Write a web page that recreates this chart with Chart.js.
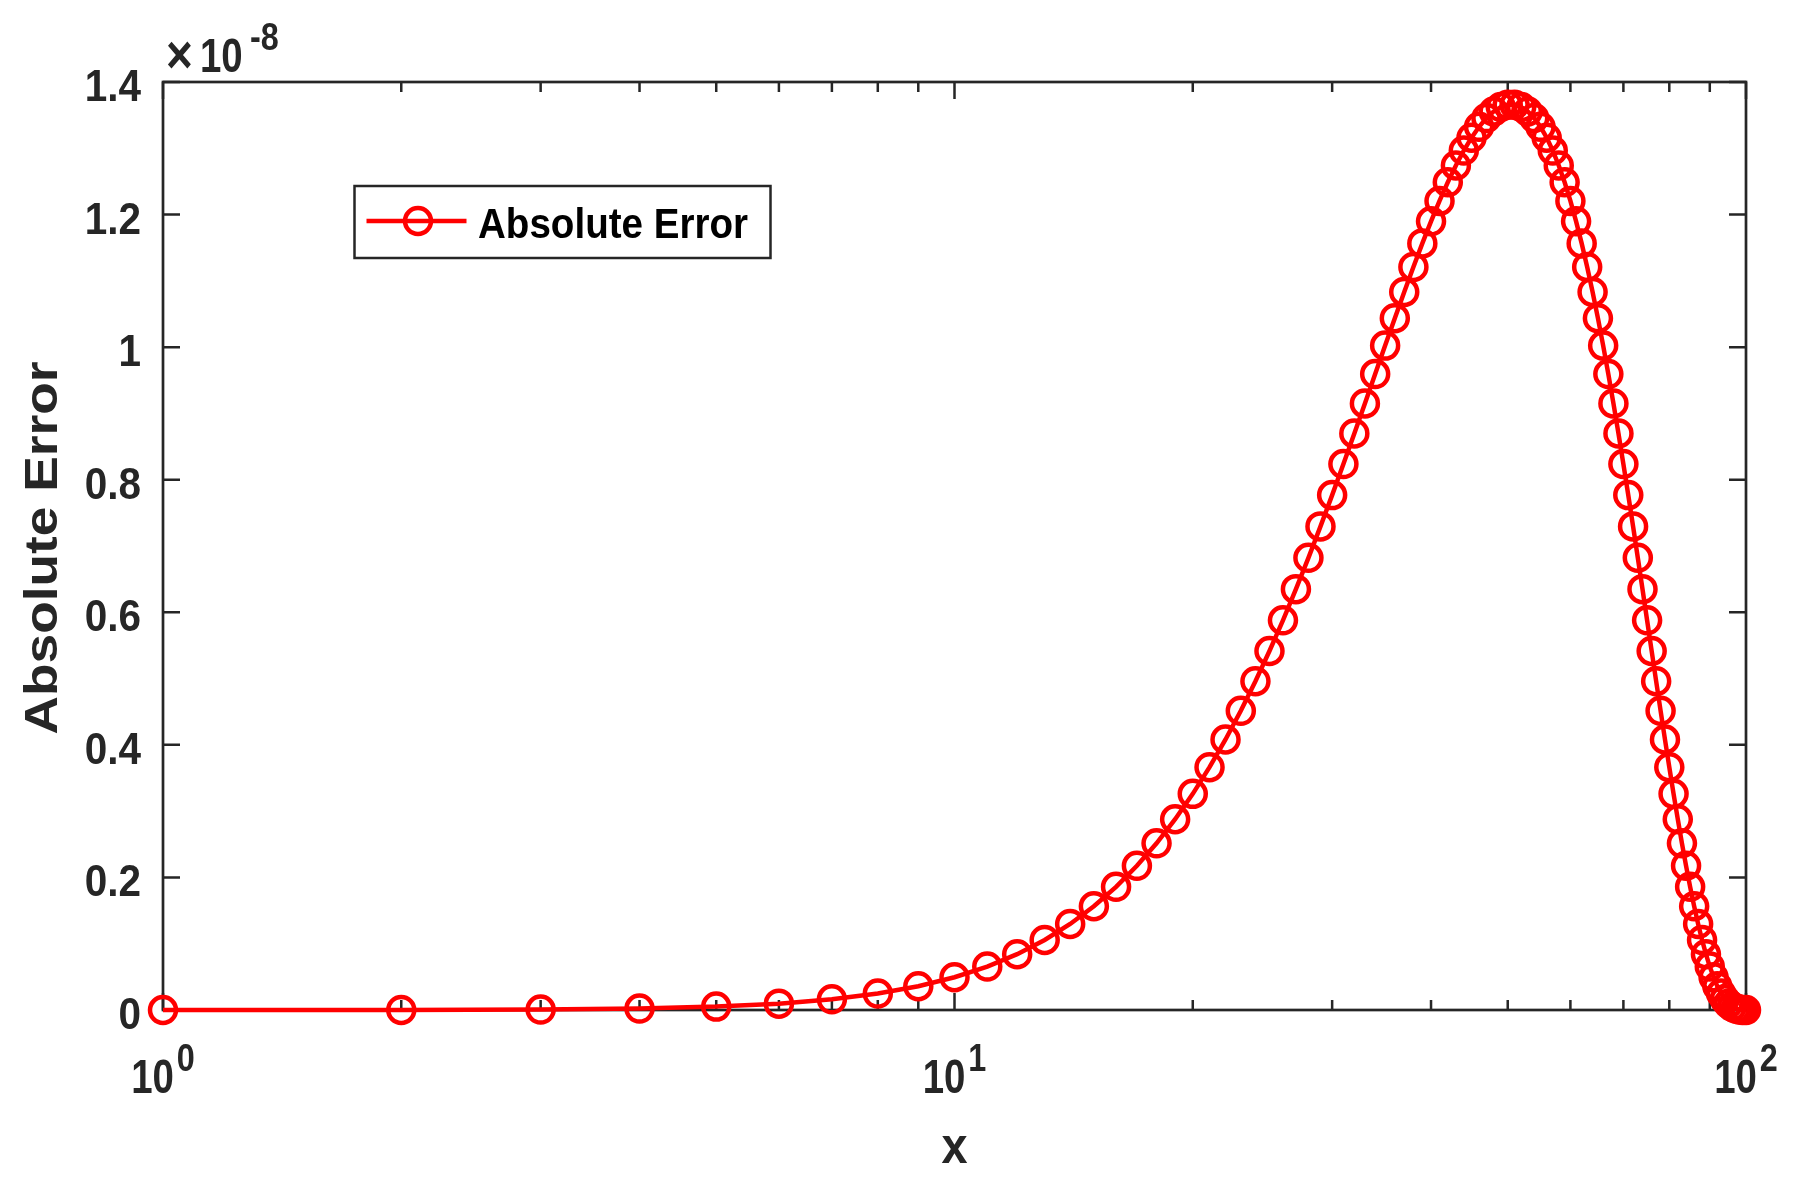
<!DOCTYPE html>
<html>
<head>
<meta charset="utf-8">
<title>Absolute Error</title>
<script src="https://cdn.jsdelivr.net/npm/chart.js@4.4.1/dist/chart.umd.min.js"></script>
<style>
  html, body { margin: 0; padding: 0; background: #fff; }
  canvas { display: block; }
</style>
</head>
<body>
<canvas id="errChart" width="1799" height="1189"></canvas>
<script>
// x positions of the samples
const xValues = [
  1, 2, 3, 4, 5, 6, 7, 8, 9, 10,
  11, 12, 13, 14, 15, 16, 17, 18, 19, 20,
  21, 22, 23, 24, 25, 26, 27, 28, 29, 30,
  31, 32, 33, 34, 35, 36, 37, 38, 39, 40,
  41, 42, 43, 44, 45, 46, 47, 48, 49, 50,
  51, 52, 53, 54, 55, 56, 57, 58, 59, 60,
  61, 62, 63, 64, 65, 66, 67, 68, 69, 70,
  71, 72, 73, 74, 75, 76, 77, 78, 79, 80,
  81, 82, 83, 84, 85, 86, 87, 88, 89, 90,
  91, 92, 93, 94, 95, 96, 97, 98, 99, 100
];

// absolute error, in units of 1e-8
const errorValues = [
  0, 0.0001, 0.0007, 0.0022, 0.0051, 0.0096, 0.0161, 0.0248, 0.0358, 0.0494,
  0.0655, 0.0842, 0.1057, 0.1298, 0.1565, 0.1858, 0.2175, 0.2515, 0.2878, 0.3261,
  0.3663, 0.4081, 0.4514, 0.4960, 0.5416, 0.5879, 0.6349, 0.6822, 0.7296, 0.7768,
  0.8236, 0.8698, 0.9151, 0.9594, 1.0023, 1.0437, 1.0833, 1.1210, 1.1565, 1.1898,
  1.2206, 1.2487, 1.2741, 1.2966, 1.3160, 1.3324, 1.3456, 1.3556, 1.3622, 1.3656,
  1.3656, 1.3622, 1.3556, 1.3456, 1.3324, 1.3160, 1.2966, 1.2741, 1.2487, 1.2206,
  1.1898, 1.1565, 1.1210, 1.0833, 1.0437, 1.0023, 0.9594, 0.9151, 0.8698, 0.8236,
  0.7768, 0.7296, 0.6822, 0.6349, 0.5879, 0.5416, 0.4960, 0.4514, 0.4081, 0.3663,
  0.3261, 0.2878, 0.2515, 0.2175, 0.1858, 0.1565, 0.1298, 0.1057, 0.0842, 0.0655,
  0.0494, 0.0358, 0.0248, 0.0161, 0.0096, 0.0051, 0.0022, 0.0007, 0.0001, 0
];

const yTicks = [0, 0.2, 0.4, 0.6, 0.8, 1, 1.2, 1.4];
const yTickLabels = ['0', '0.2', '0.4', '0.6', '0.8', '1', '1.2', '1.4'];
const xMajorTicks = [1, 10, 100];
const xMajorExponents = ['0', '1', '2'];
const xMinorTicks = [2, 3, 4, 5, 6, 7, 8, 9, 20, 30, 40, 50, 60, 70, 80, 90];
const yExponent = '-8';
const seriesLabel = 'Absolute Error';
const xTitle = 'x';
const yTitle = 'Absolute Error';

const axisColor = '#262626';
const lineRed = '#ff0000';
const fontFamily = '"Liberation Sans", Arial, sans-serif';

// bold text with a horizontal squeeze factor (matlab fonts are narrow)
function drawText(ctx, text, x, y, size, sx, align) {
  ctx.save();
  ctx.font = 'bold ' + size + 'px ' + fontFamily;
  const w = ctx.measureText(text).width * sx;
  let left = x;
  if (align === 'center') left = x - w / 2;
  else if (align === 'right') left = x - w;
  ctx.translate(left, y);
  ctx.scale(sx, 1);
  ctx.textAlign = 'left';
  ctx.textBaseline = 'alphabetic';
  ctx.fillText(text, 0, 0);
  ctx.restore();
  return w;
}

// same, but squeezed to a given width
function drawFit(ctx, text, x, y, size, width, align) {
  ctx.save();
  ctx.font = 'bold ' + size + 'px ' + fontFamily;
  const sx = width / ctx.measureText(text).width;
  ctx.restore();
  return drawText(ctx, text, x, y, size, sx, align);
}

const matlabAxes = {
  id: 'matlabAxes',
  beforeDatasetsDraw(chart) {
    const { ctx, chartArea: a, scales: { x, y } } = chart;
    ctx.save();
    ctx.strokeStyle = axisColor;
    ctx.lineWidth = 2.7;
    ctx.strokeRect(a.left, a.top, a.right - a.left, a.bottom - a.top);

    ctx.lineWidth = 2.5;
    ctx.beginPath();
    yTicks.forEach(v => {
      const py = y.getPixelForValue(v);
      ctx.moveTo(a.left, py); ctx.lineTo(a.left + 17, py);
      ctx.moveTo(a.right, py); ctx.lineTo(a.right - 17, py);
    });
    xMajorTicks.forEach(v => {
      const px = x.getPixelForValue(v);
      ctx.moveTo(px, a.bottom); ctx.lineTo(px, a.bottom - 17);
      ctx.moveTo(px, a.top); ctx.lineTo(px, a.top + 17);
    });
    xMinorTicks.forEach(v => {
      const px = x.getPixelForValue(v);
      ctx.moveTo(px, a.bottom); ctx.lineTo(px, a.bottom - 10);
      ctx.moveTo(px, a.top); ctx.lineTo(px, a.top + 10);
    });
    ctx.stroke();
    ctx.restore();
  },
  afterDraw(chart) {
    const { ctx, chartArea: a, scales: { x, y } } = chart;
    ctx.save();
    ctx.fillStyle = axisColor;

    // y tick labels
    yTicks.forEach((v, i) => {
      drawText(ctx, yTickLabels[i], a.left - 22, y.getPixelForValue(v) + 19, 44, 0.92, 'right');
    });

    // x tick labels 10^n
    xMajorTicks.forEach((v, i) => {
      const px = x.getPixelForValue(v);
      ctx.font = 'bold 48px ' + fontFamily;
      const w1 = ctx.measureText('10').width * 0.8;
      ctx.font = 'bold 39px ' + fontFamily;
      const w2 = ctx.measureText(xMajorExponents[i]).width * 0.83;
      const left = px - (w1 + 3 + w2) / 2;
      drawText(ctx, '10', left, a.bottom + 83, 48, 0.8, 'left');
      drawText(ctx, xMajorExponents[i], left + w1 + 3, a.bottom + 61, 39, 0.83, 'left');
    });

    // exponent above the y axis
    drawText(ctx, '\u00d7', a.left + 3, a.top - 9, 54, 0.85, 'left');
    drawText(ctx, '10', a.left + 37, a.top - 10, 48, 0.8, 'left');
    drawText(ctx, yExponent, a.left + 87, a.top - 32, 39, 0.83, 'left');

    // axis titles
    drawText(ctx, xTitle, (a.left + a.right) / 2, a.bottom + 153, 52, 0.9, 'center');
    ctx.save();
    ctx.translate(57, (a.top + a.bottom) / 2 + 2);
    ctx.rotate(-Math.PI / 2);
    drawFit(ctx, yTitle, 0, 0, 47, 373, 'center');
    ctx.restore();

    // legend box
    const bx = a.left + 191.5, by = a.top + 104, bw = 416, bh = 72;
    ctx.fillStyle = '#fff';
    ctx.fillRect(bx, by, bw, bh);
    ctx.strokeStyle = axisColor;
    ctx.lineWidth = 2.5;
    ctx.strokeRect(bx, by, bw, bh);
    const ds = chart.data.datasets[0];
    ctx.strokeStyle = ds.borderColor;
    ctx.lineWidth = ds.borderWidth;
    ctx.beginPath();
    ctx.moveTo(bx + 12, by + 35);
    ctx.lineTo(bx + 112, by + 35);
    ctx.stroke();
    ctx.lineWidth = ds.pointBorderWidth;
    ctx.beginPath();
    ctx.arc(bx + 63.5, by + 35, ds.pointRadius, 0, Math.PI * 2);
    ctx.stroke();
    ctx.fillStyle = '#000';
    drawFit(ctx, ds.label, bx + 123.5, by + 52, 42, 270, 'left');
    ctx.restore();
  }
};

new Chart(document.getElementById('errChart').getContext('2d'), {
  type: 'line',
  data: {
    datasets: [{
      label: seriesLabel,
      data: xValues.map((v, i) => ({ x: v, y: errorValues[i] })),
      borderColor: lineRed,
      borderWidth: 4.5,
      pointRadius: 13,
      pointBorderWidth: 4.5,
      pointBorderColor: lineRed,
      pointBackgroundColor: 'rgba(0,0,0,0)',
      tension: 0,
      clip: false
    }]
  },
  options: {
    responsive: false,
    animation: false,
    devicePixelRatio: 1,
    events: [],
    layout: { padding: { left: 163, top: 82, right: 53, bottom: 179 } },
    scales: {
      x: { type: 'logarithmic', min: 1, max: 100, display: false },
      y: { type: 'linear', min: 0, max: 1.4, display: false }
    },
    plugins: {
      legend: { display: false },
      tooltip: { enabled: false }
    }
  },
  plugins: [matlabAxes]
});
</script>
</body>
</html>
